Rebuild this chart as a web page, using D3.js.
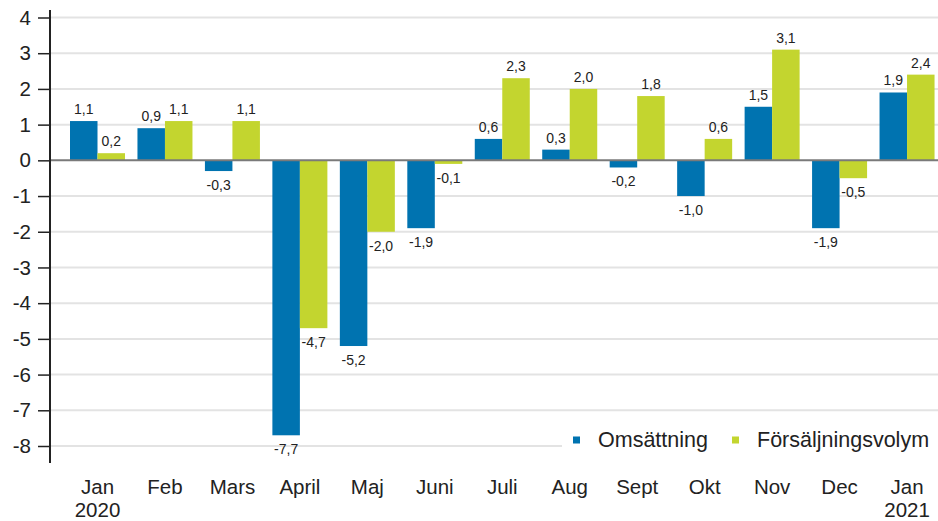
<!DOCTYPE html>
<html>
<head>
<meta charset="utf-8">
<script src="https://cdn.jsdelivr.net/npm/d3@7"></script>
<style>
  html, body { margin: 0; padding: 0; background: #fff; }
  svg { display: block; font-family: "Liberation Sans", Arial, sans-serif; }
</style>
</head>
<body>
<svg id="chart" width="938" height="521"></svg>
<script>
// ---- data ----
const categories = ["Jan 2020", "Feb", "Mars", "April", "Maj", "Juni", "Juli", "Aug", "Sept", "Okt", "Nov", "Dec", "Jan 2021"];
const categoryLabels = [["Jan", "2020"], ["Feb"], ["Mars"], ["April"], ["Maj"], ["Juni"], ["Juli"], ["Aug"], ["Sept"], ["Okt"], ["Nov"], ["Dec"], ["Jan", "2021"]];
const seriesNames = ["Omsättning", "Försäljningsvolym"];
const omsattning = [1.1, 0.9, -0.3, -7.7, -5.2, -1.9, 0.6, 0.3, -0.2, -1.0, 1.5, -1.9, 1.9];
const forsaljningsvolym = [0.2, 1.1, 1.1, -4.7, -2.0, -0.1, 2.3, 2.0, 1.8, 0.6, 3.1, -0.5, 2.4];
const yTicks = [-8, -7, -6, -5, -4, -3, -2, -1, 0, 1, 2, 3, 4];
const colors = ["#0073b0", "#c3d52f"];

// ---- chart ----
const svg = d3.select("#chart");
const W = 938, H = 521;
const axisX = 50;

const y = d3.scaleLinear().domain([-8, 4]).range([446, 17.5]);
const x = d3.scaleBand().domain(categories).range([63.8, 940.8]).padding(0);
const xInner = d3.scaleBand().domain(seriesNames).range([6.2, 61.2]).padding(0);

const loc = d3.formatLocale({decimal: ",", thousands: " ", grouping: [3], currency: ["", ""], minus: "-"});
const fmt = loc.format(".1f");

// gridlines
svg.append("g").selectAll("line").data(yTicks.filter(t => t !== 0)).join("line")
  .attr("x1", axisX).attr("x2", W)
  .attr("y1", d => y(d)).attr("y2", d => y(d))
  .attr("stroke", "#e3e3e3").attr("stroke-width", 2);

// bars
const series = [omsattning, forsaljningsvolym];
const gBars = svg.append("g");
series.forEach((vals, si) => {
  gBars.append("g").selectAll("rect").data(vals).join("rect")
    .attr("x", (d, i) => x(categories[i]) + xInner(seriesNames[si]))
    .attr("width", xInner.bandwidth())
    .attr("y", d => Math.min(y(d), y(0)))
    .attr("height", d => Math.abs(y(d) - y(0)))
    .attr("fill", colors[si]);
});

// zero line
svg.append("line").attr("x1", axisX).attr("x2", W)
  .attr("y1", y(0)).attr("y2", y(0))
  .attr("stroke", "#7a7a7a").attr("stroke-width", 2);

// value labels
const gLabels = svg.append("g").attr("font-size", 14).attr("fill", "#222").attr("text-anchor", "middle");
series.forEach((vals, si) => {
  gLabels.append("g").selectAll("text").data(vals).join("text")
    .attr("x", (d, i) => x(categories[i]) + xInner(seriesNames[si]) + xInner.bandwidth() / 2)
    .attr("y", d => d >= 0 ? y(d) - 7 : y(d) + 19)
    .text(d => fmt(d));
});

// legend (white background covering grid)
const lg = svg.append("g");
lg.append("rect").attr("x", 562).attr("y", 424).attr("width", W - 562).attr("height", 32).attr("fill", "#fff");
const legendX = [573, 732];
seriesNames.forEach((name, i) => {
  lg.append("rect").attr("x", legendX[i]).attr("y", 436.5).attr("width", 7).attr("height", 7).attr("fill", colors[i]);
  lg.append("text").attr("x", legendX[i] + 25).attr("y", 447)
    .attr("font-size", 21.5).attr("fill", "#222").text(name);
});

// y axis
const yAxis = d3.axisLeft(y).tickValues(yTicks).tickSize(12).tickPadding(7).tickFormat(d => loc.format("d")(d));
const gy = svg.append("g").attr("transform", `translate(${axisX},0)`).call(yAxis);
gy.select(".domain").remove();
gy.selectAll(".tick line").attr("stroke", "#222").attr("stroke-width", 1.5);
gy.selectAll(".tick text").attr("font-size", 20.5).attr("fill", "#222").attr("font-family", "Liberation Sans, Arial, sans-serif");
svg.append("line").attr("x1", axisX).attr("x2", axisX).attr("y1", 10).attr("y2", 463)
  .attr("stroke", "#222").attr("stroke-width", 2);

// x labels
const gx = svg.append("g").attr("font-size", 20.5).attr("fill", "#222").attr("text-anchor", "middle");
categories.forEach((c, i) => {
  const t = gx.append("text").attr("x", x(c) + x.bandwidth() / 2).attr("y", 494);
  categoryLabels[i].forEach((line, li) => {
    t.append("tspan").attr("x", x(c) + x.bandwidth() / 2).attr("dy", li === 0 ? 0 : 23).text(line);
  });
});
</script>
</body>
</html>
